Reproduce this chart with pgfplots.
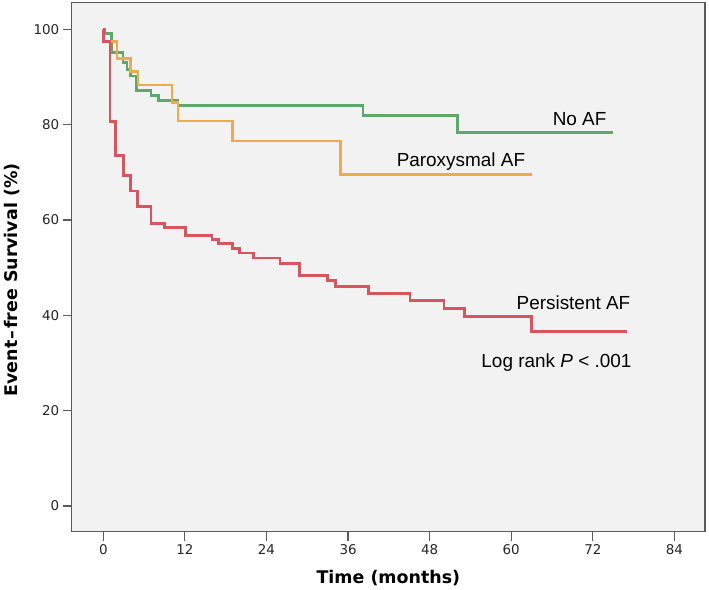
\documentclass[border=0pt]{standalone}
\usepackage{fontspec}
\setmainfont{DejaVu Sans}
\newfontfamily\annfont{Liberation Sans}
\usepackage{pgfplots}
\pgfplotsset{compat=1.18}
\definecolor{cgreen}{RGB}{95,168,105}
\definecolor{corange}{RGB}{240,170,75}
\definecolor{cred}{RGB}{215,85,95}
\definecolor{bggray}{RGB}{242,242,242}
\definecolor{framegray}{RGB}{90,90,90}
\begin{document}
\begin{tikzpicture}
\path[use as bounding box, fill=white] (0,0) rectangle (709bp,590bp);
\begin{axis}[
  at={(71.7bp,58.3bp)}, anchor=south west,
  scale only axis, width=633.3bp, height=529bp,
  xmin=-4.65, xmax=88.5, ymin=-5.4, ymax=105.6,
  xtick={0,12,...,84}, ytick={0,20,...,100},
  tick align=outside, xtick pos=left, ytick pos=left,
  major tick length=9bp,
  tick style={framegray, line width=1.2bp},
  axis line style={framegray, line width=1.5bp},
  axis background/.style={fill=bggray},
  /pgf/number format/assume math mode=true,
  tick label style={font=\fontsize{13.5}{15}\selectfont, text=black!85},
  clip=false,
  line join=miter,
]
\addplot[const plot, cgreen, line width=2.7bp] coordinates {
(0,100) (0.25,99.2) (1.2,95.1) (2.9,93.0) (3.5,91.6) (4.0,90.2) (4.9,87.2) (7.0,86.1) (8.1,85.1) (11.0,84.0) (38.2,82.0) (52.1,78.4) (74.9,78.4)
};
\addplot[const plot, corange, line width=2.7bp] coordinates {
(0,100) (0.1,97.4) (2.0,93.9) (4.0,91.1) (5.1,88.3) (10.1,84.7) (11.0,80.8) (19.0,76.6) (34.9,69.6) (63.0,69.6)
};
\addplot[const plot, cred, line width=2.7bp] coordinates {
(0,100) (0.05,97.4) (1.0,80.6) (1.8,73.6) (2.95,69.4) (4.0,66.1) (5.0,62.8) (7.0,59.3) (9.0,58.5) (12.05,56.8) (16.0,55.9) (16.9,55.0) (19.0,54.05) (20.0,53.1) (22.1,52.0) (26.0,50.9) (28.9,48.4) (33.0,47.3) (34.1,46.0) (39.0,44.6) (45.1,43.1) (50.1,41.5) (53.1,39.7) (63.0,36.6) (77.0,36.6)
};
\node[anchor=base, font=\annfont\fontsize{19}{22}\selectfont] at (axis cs:70.06,79.9) {No AF};
\node[anchor=base, font=\annfont\fontsize{19}{22}\selectfont] at (axis cs:52.6,71.2) {Paroxysmal AF};
\node[anchor=base, font=\annfont\fontsize{19}{22}\selectfont] at (axis cs:69.15,41.3) {Persistent AF};
\node[anchor=base, font=\annfont\fontsize{19}{22}\selectfont] at (axis cs:66.65,29.1) {Log rank \textit{P} < .001};
\node[rotate=90, font=\bfseries\fontsize{17.5}{20}\selectfont] at (rel axis cs:-0.0943,0.476) {Event\kern1.5pt--\kern1.5pt free Survival (\%)};
\node[font=\bfseries\fontsize{17.5}{20}\selectfont] at (rel axis cs:0.5,-0.0875) {Time (months)};
\end{axis}
\end{tikzpicture}
\end{document}
